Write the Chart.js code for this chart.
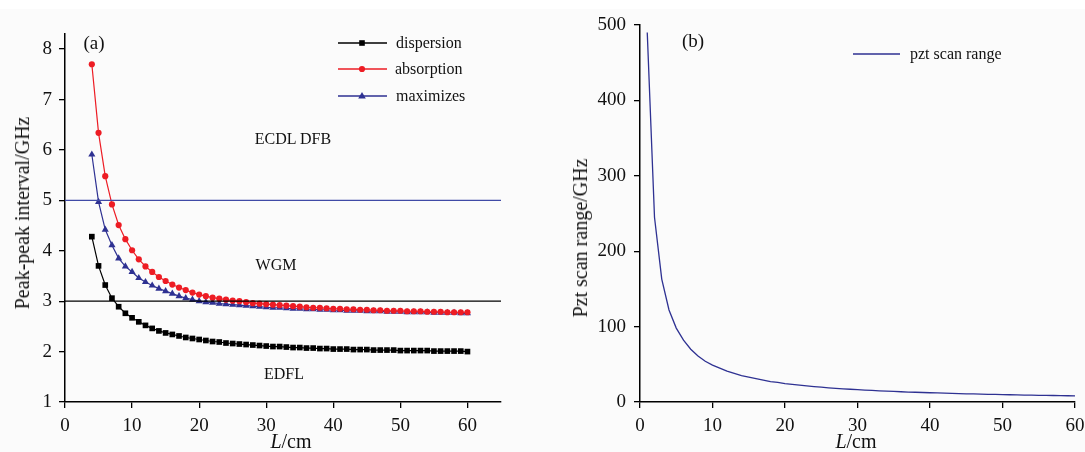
<!DOCTYPE html>
<html>
<head>
<meta charset="utf-8">
<script src="https://cdn.jsdelivr.net/npm/chart.js@4/dist/chart.umd.min.js"></script>
<style>
  html, body { margin:0; padding:0; width:1085px; height:452px; overflow:hidden; background:#fbfbfb; font-family:"Liberation Serif","Times New Roman",serif; }
  #topstrip { position:absolute; left:0; top:0; width:1085px; height:9px; background:#ffffff; }
  #cA { position:absolute; left:0; top:0; }
  #cB { position:absolute; left:540px; top:0; }
  .t { position:absolute; transform:translate(-50%,-50%); white-space:nowrap; color:#111; line-height:1; }
  .rot { transform:translate(-50%,-50%) rotate(-90deg); }
  .lg { position:absolute; white-space:nowrap; color:#111; font-size:16px; line-height:1; transform:translateY(-50%); }
</style>
</head>
<body>
<div id="topstrip"></div>
<canvas id="cA" width="540" height="452"></canvas>
<canvas id="cB" width="600" height="452"></canvas>

<div class="t" style="left:94px;top:42px;font-size:19px;">(a)</div>
<div class="t" style="left:293px;top:139px;font-size:16px;">ECDL DFB</div>
<div class="t" style="left:276px;top:265px;font-size:16px;">WGM</div>
<div class="t" style="left:284px;top:374px;font-size:16px;">EDFL</div>
<div class="t rot" style="left:22px;top:213px;font-size:20px;">Peak-peak interval/GHz</div>
<div class="t" style="left:291px;top:441px;font-size:20px;"><i>L</i>/cm</div>
<div class="lg" style="left:396px;top:43px;">dispersion</div>
<div class="lg" style="left:395px;top:69px;">absorption</div>
<div class="lg" style="left:396px;top:96px;">maximizes</div>

<div class="t" style="left:693px;top:40px;font-size:19px;">(b)</div>
<div class="t rot" style="left:580px;top:238px;font-size:20px;">Pzt scan range/GHz</div>
<div class="t" style="left:856px;top:441px;font-size:20px;"><i>L</i>/cm</div>
<div class="lg" style="left:910px;top:54px;">pzt scan range</div>

<script>
// ---------- data: panel (a) ----------
const lengthA = [4,5,6,7,8,9,10,11,12,13,14,15,16,17,18,19,20,21,22,23,24,25,26,27,28,29,30,31,32,33,34,35,36,37,38,39,40,41,42,43,44,45,46,47,48,49,50,51,52,53,54,55,56,57,58,59,60];
const dispersion = [4.28,3.70,3.32,3.06,2.89,2.76,2.67,2.59,2.52,2.46,2.41,2.37,2.34,2.31,2.28,2.26,2.24,2.22,2.20,2.19,2.17,2.16,2.15,2.14,2.13,2.12,2.11,2.10,2.10,2.09,2.08,2.08,2.07,2.07,2.06,2.06,2.05,2.05,2.05,2.04,2.04,2.04,2.03,2.03,2.03,2.03,2.02,2.02,2.02,2.02,2.02,2.01,2.01,2.01,2.01,2.01,2.00];
const absorption = [7.70,6.34,5.48,4.92,4.51,4.23,4.01,3.83,3.69,3.58,3.48,3.40,3.33,3.27,3.22,3.17,3.13,3.10,3.07,3.05,3.03,3.01,3.00,2.98,2.96,2.95,2.94,2.93,2.92,2.91,2.90,2.89,2.88,2.87,2.87,2.86,2.85,2.85,2.84,2.84,2.83,2.83,2.82,2.82,2.81,2.81,2.81,2.80,2.80,2.80,2.79,2.79,2.79,2.78,2.78,2.78,2.78];
const maximizes = [5.91,4.97,4.42,4.11,3.85,3.69,3.58,3.46,3.38,3.31,3.25,3.20,3.15,3.10,3.06,3.03,3.00,2.98,2.97,2.95,2.94,2.93,2.92,2.91,2.90,2.89,2.88,2.87,2.87,2.86,2.85,2.85,2.84,2.84,2.83,2.83,2.82,2.82,2.81,2.81,2.81,2.80,2.80,2.80,2.79,2.79,2.79,2.78,2.78,2.78,2.78,2.77,2.77,2.77,2.77,2.76,2.76];
const boundaryX = [0, 65];
const ecdlLevel = 5;
const wgmLevel = 3;
const xTicksA = [0,10,20,30,40,50,60];
const yTicksA = [1,2,3,4,5,6,7,8];

// ---------- data: panel (b) ----------
const lengthB = [1,2,3,4,5,6,7,8,9,10,11,12,13,14,15,16,17,18,19,20,21,22,23,24,25,26,27,28,29,30,31,32,33,34,35,36,37,38,39,40,41,42,43,44,45,46,47,48,49,50,51,52,53,54,55,56,57,58,59,60];
const pztRange = [490,245,163,122,98,82,70,61,54,49,45,41,38,35,33,31,29,27,26,24.5,23.3,22.3,21.3,20.4,19.6,18.8,18.1,17.5,16.9,16.3,15.8,15.3,14.8,14.4,14.0,13.6,13.2,12.9,12.6,12.3,12.0,11.7,11.4,11.1,10.9,10.7,10.4,10.2,10.0,9.8,9.6,9.4,9.2,9.1,8.9,8.8,8.6,8.4,8.3,8.2];
const xTicksB = [0,10,20,30,40,50,60];
const yTicksB = [0,100,200,300,400,500];

const BLACK = '#000000', RED = '#ed1c24', BLUE = '#2e3192', HBLUE = '#3f4aa6';
const FONT = { family: '"Liberation Serif","Times New Roman",serif', size: 19 };

const pts = (xs, ys) => xs.map((x, i) => ({ x: x, y: ys[i] }));

function axis(min, max, tickVals, fitProp, fitVal, pad) {
  return {
    type: 'linear', min: min, max: max,
    afterBuildTicks: s => { s.ticks = tickVals.map(v => ({ value: v })); },
    afterFit: s => { s[fitProp] = fitVal; },
    grid: { display: true, drawOnChartArea: false, drawTicks: true, tickLength: 6, tickColor: BLACK, lineWidth: 1.3 },
    border: { display: true, color: BLACK, width: 1.5 },
    ticks: { color: '#111', font: FONT, padding: pad, maxRotation: 0, autoSkip: false }
  };
}

// legend samples for panel (a)
const legendSamples = {
  id: 'legendSamples',
  afterDraw(chart) {
    const ctx = chart.ctx;
    const rows = [
      { y: 43, color: BLACK, style: 'rect' },
      { y: 69, color: RED, style: 'circle' },
      { y: 96, color: BLUE, style: 'triangle' }
    ];
    ctx.save();
    rows.forEach(r => {
      ctx.strokeStyle = r.color; ctx.lineWidth = 1.3;
      ctx.beginPath(); ctx.moveTo(338, r.y); ctx.lineTo(387, r.y); ctx.stroke();
      ctx.fillStyle = r.color;
      const cx = 362, cy = r.y;
      ctx.beginPath();
      if (r.style === 'rect') ctx.rect(cx - 2.8, cy - 2.8, 5.6, 5.6);
      else if (r.style === 'circle') ctx.arc(cx, cy, 3.1, 0, Math.PI * 2);
      else { ctx.moveTo(cx, cy - 4); ctx.lineTo(cx + 3.8, cy + 2.6); ctx.lineTo(cx - 3.8, cy + 2.6); ctx.closePath(); }
      ctx.fill();
    });
    ctx.restore();
  }
};

new Chart(document.getElementById('cA'), {
  type: 'scatter',
  data: {
    datasets: [
      { data: boundaryX.map(x => ({ x: x, y: ecdlLevel })), showLine: true, borderColor: HBLUE, borderWidth: 1.3, pointRadius: 0 },
      { data: boundaryX.map(x => ({ x: x, y: wgmLevel })), showLine: true, borderColor: BLACK, borderWidth: 1.3, pointRadius: 0 },
      { label: 'dispersion', data: pts(lengthA, dispersion), showLine: true, borderColor: BLACK, backgroundColor: BLACK, borderWidth: 1.2, pointStyle: 'rect', pointRadius: 4, pointBorderWidth: 0 },
      { label: 'absorption', data: pts(lengthA, absorption), showLine: true, borderColor: RED, backgroundColor: RED, borderWidth: 1.2, pointStyle: 'circle', pointRadius: 3.1, pointBorderWidth: 0 },
      { label: 'maximizes', data: pts(lengthA, maximizes), showLine: true, borderColor: BLUE, backgroundColor: BLUE, borderWidth: 1.2, pointStyle: 'triangle', pointRadius: 4.1, pointBorderWidth: 0 }
    ]
  },
  options: {
    responsive: false, animation: false, events: [],
    layout: { padding: { left: 0, top: 34, right: 39, bottom: 0 } },
    plugins: { legend: { display: false }, tooltip: { enabled: false } },
    scales: {
      x: axis(0, 65, xTicksA, 'height', 50, 7),
      y: axis(1, 8.3, yTicksA, 'width', 65, 7)
    }
  },
  plugins: [legendSamples]
});

const legendB = {
  id: 'legendB',
  afterDraw(chart) {
    const ctx = chart.ctx;
    ctx.save();
    ctx.strokeStyle = BLUE; ctx.lineWidth = 1.3;
    ctx.beginPath(); ctx.moveTo(853 - 540, 54); ctx.lineTo(900 - 540, 54); ctx.stroke();
    ctx.restore();
  }
};

new Chart(document.getElementById('cB'), {
  type: 'scatter',
  data: {
    datasets: [
      { label: 'pzt scan range', data: pts(lengthB, pztRange), showLine: true, borderColor: BLUE, borderWidth: 1.3, pointRadius: 0 }
    ]
  },
  options: {
    responsive: false, animation: false, events: [],
    layout: { padding: { left: 0, top: 25, right: 65, bottom: 0 } },
    plugins: { legend: { display: false }, tooltip: { enabled: false } },
    scales: {
      x: axis(0, 60, xTicksB, 'height', 50, 7),
      y: axis(0, 500, yTicksB, 'width', 100, 8)
    }
  },
  plugins: [legendB]
});
</script>
</body>
</html>
